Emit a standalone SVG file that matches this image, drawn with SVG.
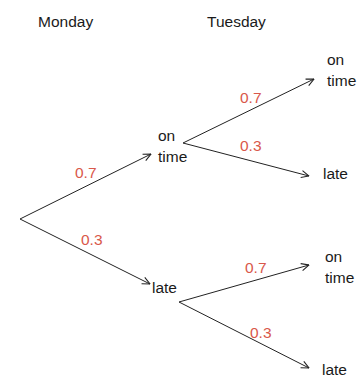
<svg xmlns="http://www.w3.org/2000/svg" width="362" height="377" viewBox="0 0 362 377">
<style>
text{font-family:"Liberation Sans",Arial,sans-serif;font-size:15.5px;fill:#1a1a1a}
text.p{fill:#d9584b}
.c line{stroke:#222;stroke-width:1;fill:none}
</style>
<defs>
<marker id="a" viewBox="0 0 10 10" refX="9.5" refY="5" markerWidth="9" markerHeight="9" markerUnits="userSpaceOnUse" orient="auto">
<path d="M1,1 L9.5,5 L1,9" fill="none" stroke="#222" stroke-width="1.2"/>
</marker>
</defs>
<rect width="362" height="377" fill="#fff"/>
<g id="headers">
<text x="38" y="27">Monday</text>
<text x="207" y="27">Tuesday</text>
</g>
<g class="c" id="connectors">
<line x1="20" y1="219" x2="151" y2="154" marker-end="url(#a)"/>
<line x1="20" y1="219" x2="150" y2="284" marker-end="url(#a)"/>
<line x1="183" y1="143" x2="314" y2="79" marker-end="url(#a)"/>
<line x1="183" y1="143" x2="309" y2="176" marker-end="url(#a)"/>
<line x1="179" y1="302" x2="309" y2="265" marker-end="url(#a)"/>
<line x1="179" y1="302" x2="309" y2="368" marker-end="url(#a)"/>
</g>
<g id="labels">
<text class="p" x="75" y="178">0.7</text>
<text class="p" x="81" y="245">0.3</text>
<text class="p" x="240" y="103">0.7</text>
<text class="p" x="240" y="151">0.3</text>
<text class="p" x="245" y="273">0.7</text>
<text class="p" x="250" y="338">0.3</text>
</g>
<g id="mon-ontime"><text x="158" y="141">on</text><text x="158" y="162">time</text></g>
<g id="mon-late"><text x="152" y="293">late</text></g>
<g id="tue-ontime-ontime"><text x="327" y="65">on</text><text x="327" y="86">time</text></g>
<g id="tue-ontime-late"><text x="323" y="179">late</text></g>
<g id="tue-late-ontime"><text x="325" y="262">on</text><text x="325" y="283">time</text></g>
<g id="tue-late-late"><text x="322" y="375">late</text></g>
</svg>
